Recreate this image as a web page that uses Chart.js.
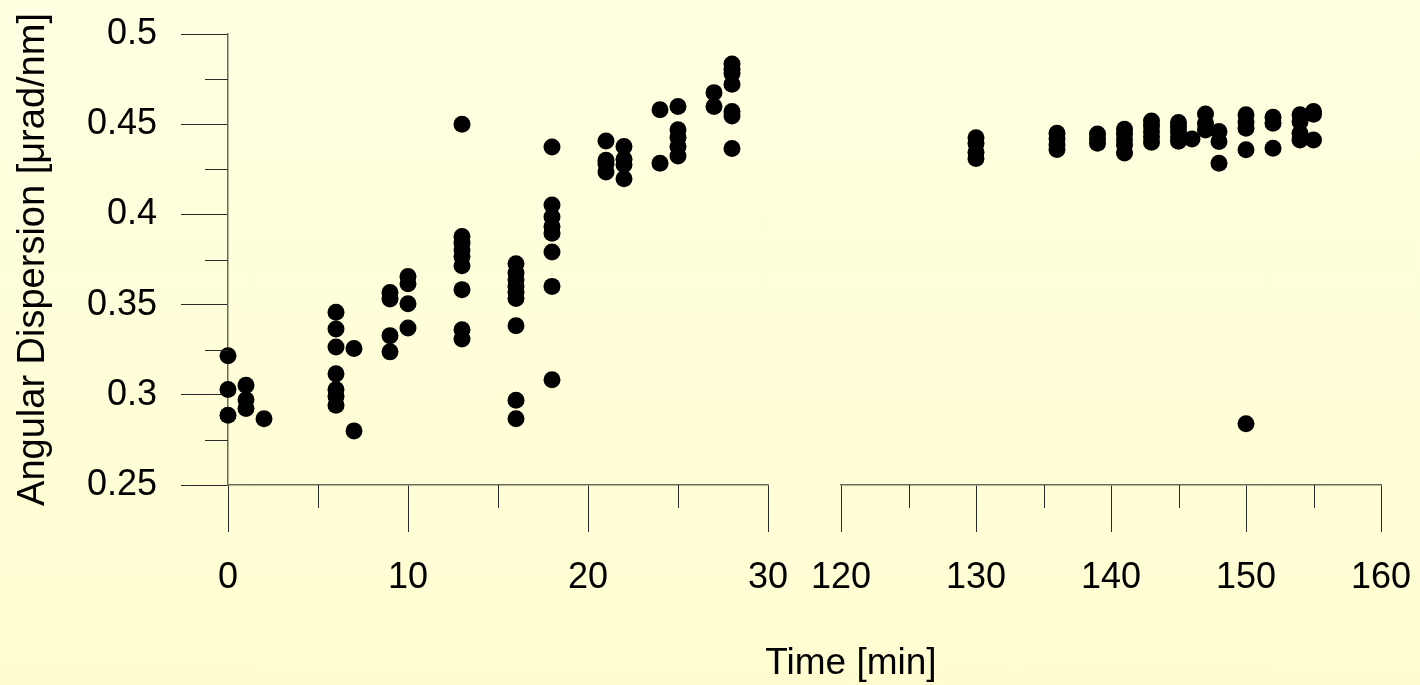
<!DOCTYPE html>
<html>
<head>
<meta charset="utf-8">
<script src="https://cdn.jsdelivr.net/npm/chart.js@4.4.1/dist/chart.umd.min.js"></script>
<style>
  html, body { margin: 0; padding: 0; }
  body {
    width: 1420px; height: 685px; overflow: hidden; position: relative;
    background: linear-gradient(to bottom, #FFFFE2 0%, #FFFDD0 100%);
    font-family: "Liberation Sans", Arial, sans-serif;
  }
  canvas { position: absolute; top: 0; }
  #early { left: 0; }
  #late { left: 780px; }
  #xtitle {
    position: absolute; left: 851px; top: 644px; transform: translateX(-50%);
    font-size: 37px; line-height: 36px; color: #000; white-space: nowrap;
  }
</style>
</head>
<body>
<canvas id="early" width="800" height="685"></canvas>
<canvas id="late" width="640" height="685"></canvas>
<div id="xtitle">Time [min]</div>
<script>
// Measurement times (min) and the angular dispersion readings taken at each time.
const earlyMinutes = [0, 1, 2, 6, 7, 9, 10, 13, 16, 18, 21, 22, 24, 25, 27, 28];
const earlyReadings = [
  [0.3217, 0.3029, 0.2887],
  [0.3053, 0.2973, 0.2924],
  [0.2867],
  [0.3457, 0.3365, 0.3265, 0.3116, 0.3029, 0.2992, 0.2942],
  [0.3257, 0.2800],
  [0.3567, 0.3531, 0.3328, 0.3238],
  [0.3656, 0.3616, 0.3505, 0.3370],
  [0.4500, 0.3878, 0.3841, 0.3804, 0.3767, 0.3715, 0.3583, 0.3361, 0.3309],
  [0.3726, 0.3675, 0.3638, 0.3601, 0.3568, 0.3534, 0.3383, 0.2970, 0.2867],
  [0.4373, 0.4052, 0.3985, 0.3933, 0.3896, 0.3791, 0.3601, 0.3084],
  [0.4407, 0.4300, 0.4280, 0.4235],
  [0.4376, 0.4306, 0.4275, 0.4197],
  [0.4580, 0.4284],
  [0.4598, 0.4469, 0.4428, 0.4376, 0.4324],
  [0.4675, 0.4598],
  [0.4834, 0.4805, 0.4782, 0.4721, 0.4570, 0.4546, 0.4365]
];

const lateMinutes = [130, 136, 139, 141, 143, 145, 146, 147, 148, 150, 152, 154, 155];
const lateReadings = [
  [0.4425, 0.4395, 0.4345, 0.4310],
  [0.4450, 0.4420, 0.4385, 0.4360],
  [0.4446, 0.4420, 0.4395],
  [0.4472, 0.4445, 0.4415, 0.4385, 0.4340],
  [0.4518, 0.4490, 0.4460, 0.4430, 0.4400],
  [0.4509, 0.4485, 0.4460, 0.4430, 0.4405],
  [0.4418],
  [0.4557, 0.4505, 0.4468],
  [0.4459, 0.4404, 0.4284],
  [0.4552, 0.4514, 0.4478, 0.4358, 0.2840],
  [0.4539, 0.4505, 0.4367],
  [0.4552, 0.4514, 0.4450, 0.4413],
  [0.4570, 0.4555, 0.4413]
];

// Axis ranges and tick positions of the broken time axis
const earlyRange = [0, 30];
const lateRange = [120, 160];
const yRange = [0.25, 0.5];
const earlyMinorTicks = [5, 15, 25];
const lateMinorTicks = [125, 135, 145, 155];
const yMinorTicks = [0.275, 0.325, 0.375, 0.425, 0.475];

const FONT = '"Liberation Sans", Arial, sans-serif';
const AXIS_COLOR = '#6a6a58';
const TICK_COLOR = '#2a2a2a';

function toPoints(minutes, readings) {
  const pts = [];
  minutes.forEach((t, i) => readings[i].forEach(v => pts.push({ x: t, y: v })));
  return pts;
}

// Let the layout padding alone decide where the plot area sits
function noLabelPadding(s) {
  s.paddingLeft = 0; s.paddingRight = 0; s.paddingTop = 0; s.paddingBottom = 0;
}

// Short unlabeled ticks between the labeled ones
const minorTicks = {
  id: 'minorTicks',
  afterDraw(chart, args, opts) {
    const ctx = chart.ctx;
    ctx.save();
    ctx.strokeStyle = TICK_COLOR;
    ctx.lineWidth = 1;
    ctx.beginPath();
    const xs = chart.scales.x;
    (opts.x || []).forEach(v => {
      const px = Math.round(xs.getPixelForValue(v)) + 0.5;
      ctx.moveTo(px, xs.top);
      ctx.lineTo(px, xs.top + opts.length);
    });
    const ys = chart.scales.y;
    (opts.y || []).forEach(v => {
      const py = Math.round(ys.getPixelForValue(v)) + 0.5;
      ctx.moveTo(ys.right, py);
      ctx.lineTo(ys.right - opts.length, py);
    });
    ctx.stroke();
    ctx.restore();
  }
};

function xScale(range) {
  return {
    type: 'linear', position: 'bottom', min: range[0], max: range[1],
    ticks: { stepSize: 10, padding: 24, color: '#000', maxRotation: 0, autoSkip: false,
             font: { family: FONT, size: 36 } },
    grid: { drawOnChartArea: false, drawTicks: true, tickLength: 47, tickColor: TICK_COLOR, tickWidth: 1 },
    border: { display: true, color: AXIS_COLOR, width: 1.5 },
    afterFit(s) { s.height = 200; noLabelPadding(s); }
  };
}

function pointDataset(data) {
  return {
    data, clip: false, showLine: false,
    pointRadius: 8.5, pointHoverRadius: 8.5,
    pointBackgroundColor: '#000', pointBorderWidth: 0, borderColor: '#000'
  };
}

Chart.defaults.font.family = FONT;

new Chart(document.getElementById('early'), {
  type: 'scatter',
  data: { datasets: [pointDataset(toPoints(earlyMinutes, earlyReadings))] },
  options: {
    responsive: false, animation: false, devicePixelRatio: 1,
    layout: { padding: { left: 0, right: 32, top: 34, bottom: 0 } },
    plugins: { legend: { display: false }, tooltip: { enabled: false },
               minorTicks: { x: earlyMinorTicks, y: yMinorTicks, length: 23 } },
    scales: {
      x: xScale(earlyRange),
      y: {
        type: 'linear', position: 'left', min: yRange[0], max: yRange[1],
        ticks: { stepSize: 0.05, padding: 24, color: '#000', font: { family: FONT, size: 36 },
                 callback: v => String(+v.toFixed(2)) },
        grid: { drawOnChartArea: false, drawTicks: true, tickLength: 47, tickColor: TICK_COLOR, tickWidth: 1 },
        border: { display: true, color: AXIS_COLOR, width: 1.5 },
        title: { display: true, text: 'Angular Dispersion [\u03BCrad/nm]', color: '#000',
                 font: { family: FONT, size: 38 }, padding: { top: 11, bottom: 0 } },
        afterFit(s) { s.width = 228; noLabelPadding(s); }
      }
    }
  },
  plugins: [minorTicks]
});

new Chart(document.getElementById('late'), {
  type: 'scatter',
  data: { datasets: [pointDataset(toPoints(lateMinutes, lateReadings))] },
  options: {
    responsive: false, animation: false, devicePixelRatio: 1,
    layout: { padding: { left: 61, right: 39, top: 34, bottom: 0 } },
    plugins: { legend: { display: false }, tooltip: { enabled: false },
               minorTicks: { x: lateMinorTicks, length: 23 } },
    scales: {
      x: xScale(lateRange),
      y: { type: 'linear', display: false, min: yRange[0], max: yRange[1],
           afterFit(s) { noLabelPadding(s); } }
    }
  },
  plugins: [minorTicks]
});
</script>
</body>
</html>
